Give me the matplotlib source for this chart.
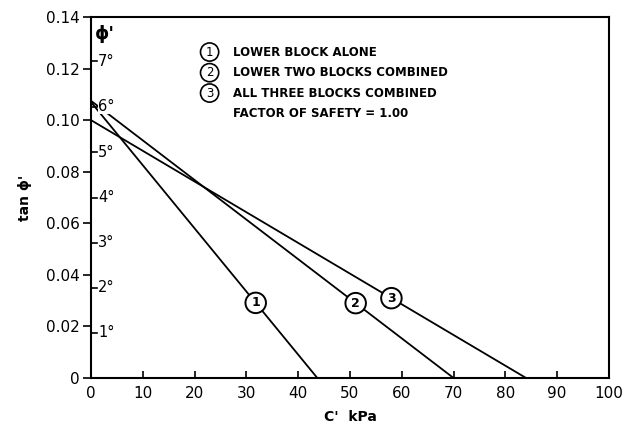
import numpy as np
import matplotlib.pyplot as plt

# strength envelopes: c' (kPa) vs tan(phi') for factor of safety 1.00
c_1 = [0, 43.7]
tan_1 = [0.107, 0]
c_2 = [0, 70]
tan_2 = [0.1075, 0]
c_3 = [0, 84]
tan_3 = [0.100, 0]

curve_ids = ["1", "2", "3"]
label_c = [31.8, 51.1, 58.0]

legend_lines = ["LOWER BLOCK ALONE", "LOWER TWO BLOCKS COMBINED",
                "ALL THREE BLOCKS COMBINED", "FACTOR OF SAFETY = 1.00"]

x_ticks = list(range(0, 101, 10))
y_ticks = [0, 0.02, 0.04, 0.06, 0.08, 0.10, 0.12, 0.14]
y_tick_labels = ["0", "0.02", "0.04", "0.06", "0.08", "0.10", "0.12", "0.14"]
phi_degrees = [1, 2, 3, 4, 5, 6, 7]

plt.rcParams['font.family'] = ['DejaVu Sans']
fig = plt.figure(figsize=(6.38, 4.24), dpi=100)
ax = fig.add_axes([0.1426, 0.1085, 0.8119, 0.8515])

for c, t in [(c_1, tan_1), (c_2, tan_2), (c_3, tan_3)]:
    ax.plot(c, t, color="black", lw=1.3, zorder=2)

# circled curve numbers sitting on each line
for cid, cx, (c, t) in zip(curve_ids, label_c, [(c_1, tan_1), (c_2, tan_2), (c_3, tan_3)]):
    ty = np.interp(cx, c, t)
    ax.text(cx, ty, cid, ha="center", va="center", fontsize=9, fontweight="bold",
            bbox=dict(boxstyle="circle,pad=0.3", fc="white", ec="black", lw=1.4), zorder=4)

ax.set_xlim(0, 100)
ax.set_ylim(0, 0.14)
ax.set_xticks(x_ticks)
ax.set_yticks(y_ticks)
ax.set_yticklabels(y_tick_labels)
ax.tick_params(axis="x", direction="in", length=5, width=1.2, labelsize=11, pad=6)
ax.tick_params(axis="y", direction="out", length=6, width=1.2, labelsize=11, pad=2)
for s in ax.spines.values():
    s.set_linewidth(1.5)

# phi' degree scale drawn inside the left axis
for d in phi_degrees:
    ty = np.tan(np.radians(d))
    ax.plot([0, 1.1], [ty, ty], color="black", lw=1.2, clip_on=False, zorder=3)
    ax.text(1.4, ty, f"{d}°", ha="left", va="center", fontsize=10.5, zorder=5,
            bbox=dict(boxstyle="square,pad=0.0", fc="white", ec="none"))
ax.text(0.8, 0.1334, "ϕ'", ha="left", va="center", fontsize=13, fontweight="bold")

# key in the upper part of the plot
key_y = [0.1264, 0.1184, 0.1105, 0.1025]
for i, (txt, ky) in enumerate(zip(legend_lines, key_y)):
    if i < 3:
        ax.text(22.9, ky, curve_ids[i], ha="center", va="center", fontsize=8.5,
                bbox=dict(boxstyle="circle,pad=0.22", fc="white", ec="black", lw=1.2))
    ax.text(27.5, ky, txt, ha="left", va="center", fontsize=8.5, fontweight="bold")

ax.set_xlabel("C'  kPa", fontsize=10, fontweight="bold", labelpad=6)
ax.set_ylabel("tan ϕ'", fontsize=10, fontweight="bold", labelpad=10)

fig.savefig("out.png", dpi=100)
